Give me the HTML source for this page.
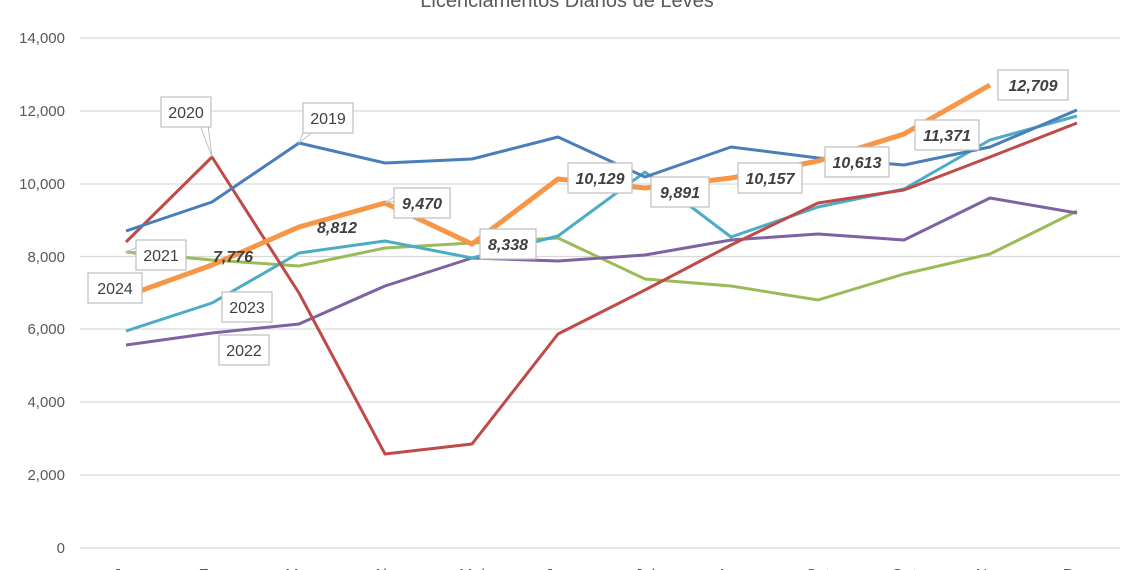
<!DOCTYPE html>
<html><head><meta charset="utf-8"><style>
html,body{margin:0;padding:0;background:#fff;}
svg{display:block;font-family:"Liberation Sans",sans-serif;}
</style></head><body>
<svg width="1140" height="570" viewBox="0 0 1140 570" xmlns="http://www.w3.org/2000/svg">
<text x="567" y="7" font-size="20" fill="#595959" text-anchor="middle">Licenciamentos Diários de Leves</text>
<g stroke="#d9d9d9" stroke-width="1.3">
<line x1="80" y1="38" x2="1120" y2="38"/><line x1="80" y1="111" x2="1120" y2="111"/>
<line x1="80" y1="184" x2="1120" y2="184"/><line x1="80" y1="256.5" x2="1120" y2="256.5"/>
<line x1="80" y1="329" x2="1120" y2="329"/><line x1="80" y1="402" x2="1120" y2="402"/>
<line x1="80" y1="475" x2="1120" y2="475"/><line x1="80" y1="548" x2="1120" y2="548"/>
</g>
<g font-size="15" fill="#595959" text-anchor="end">
<text x="65" y="43">14,000</text><text x="65" y="116">12,000</text><text x="65" y="189">10,000</text>
<text x="65" y="262">8,000</text><text x="65" y="334">6,000</text><text x="65" y="407">4,000</text>
<text x="65" y="480">2,000</text><text x="65" y="553">0</text>
</g>
<g font-size="16" fill="#595959" text-anchor="middle">
<text x="126" y="580">Jan</text><text x="212" y="580">Fev</text><text x="299" y="580">Mar</text><text x="385" y="580">Abr</text><text x="472" y="580">Mai</text><text x="558" y="580">Jun</text><text x="645" y="580">Jul</text><text x="731" y="580">Ago</text><text x="818" y="580">Set</text><text x="904" y="580">Out</text><text x="990" y="580">Nov</text><text x="1077" y="580">Dez</text>
</g>
<g fill="none" stroke-linejoin="round" stroke-width="3">
<polyline stroke="#9bbb59" points="126,252 212,260 299,266 385,248 472,243 558,238 645,279 731,286 818,300 904,274 990,254 1077,211"/>
<polyline stroke="#7e62a1" points="126,345 212,333 299,324 385,286 472,258 558,261 645,255 731,240 818,234 904,240 990,198 1077,213"/>
<polyline stroke="#4bacc6" points="126,331 212,303 299,253 385,241 472,258 558,236 645,172 731,237 818,207 904,189 990,140 1077,116"/>
<polyline stroke="#be4b48" points="126,242 212,157 299,293 385,454 472,444 558,334 645,290 731,245 818,203 904,190 990,157 1077,123"/>
<polyline stroke="#4a7ebb" points="126,231 212,202 299,143 385,163 472,159 558,137 645,177 731,147 818,158 904,165 990,147 1077,110"/>
<polyline stroke="#f79646" stroke-width="5" points="126,296 212,265 299,227 385,203 472,244 558,179 645,188 731,178 818,161 904,134 990,85"/>
</g>
<g stroke="#bfbfbf" fill="none" stroke-width="1">
<polyline points="200,125 212,157 208,125"/>
<polyline points="305,128 299,143 318,128"/>
<polyline points="140,246 126,252 140,256"/>
<polyline points="395,196 385,203 400,200"/>
</g>
<g fill="#fff" stroke="#bfbfbf" stroke-width="1.2">
<rect x="161" y="97" width="50" height="30"/>
<rect x="303" y="103" width="50" height="30"/>
<rect x="136" y="240" width="50" height="30"/>
<rect x="88" y="273" width="54" height="30"/>
<rect x="222" y="292" width="50" height="30"/>
<rect x="219" y="335" width="50" height="30"/>
<rect x="394" y="188" width="56" height="30"/>
<rect x="480" y="229" width="56" height="30"/>
<rect x="568" y="163" width="64" height="30"/>
<rect x="651" y="177" width="58" height="30"/>
<rect x="738" y="163" width="64" height="30"/>
<rect x="825" y="147" width="64" height="30"/>
<rect x="915" y="120" width="64" height="30"/>
<rect x="998" y="70" width="70" height="30"/>
</g>
<g font-size="16" fill="#404040" text-anchor="middle">
<text x="186" y="118">2020</text><text x="328" y="124">2019</text>
<text x="161" y="261">2021</text><text x="115" y="294">2024</text>
<text x="247" y="313">2023</text><text x="244" y="356">2022</text>
</g>
<g font-size="16" fill="#404040" font-weight="bold" font-style="italic" text-anchor="middle">
<text x="233" y="262">7,776</text><text x="337" y="233">8,812</text>
<text x="422" y="209">9,470</text><text x="508" y="250">8,338</text>
<text x="600" y="184">10,129</text><text x="680" y="198">9,891</text>
<text x="770" y="184">10,157</text><text x="857" y="168">10,613</text>
<text x="947" y="141">11,371</text><text x="1033" y="91">12,709</text>
</g>
</svg>
</body></html>
